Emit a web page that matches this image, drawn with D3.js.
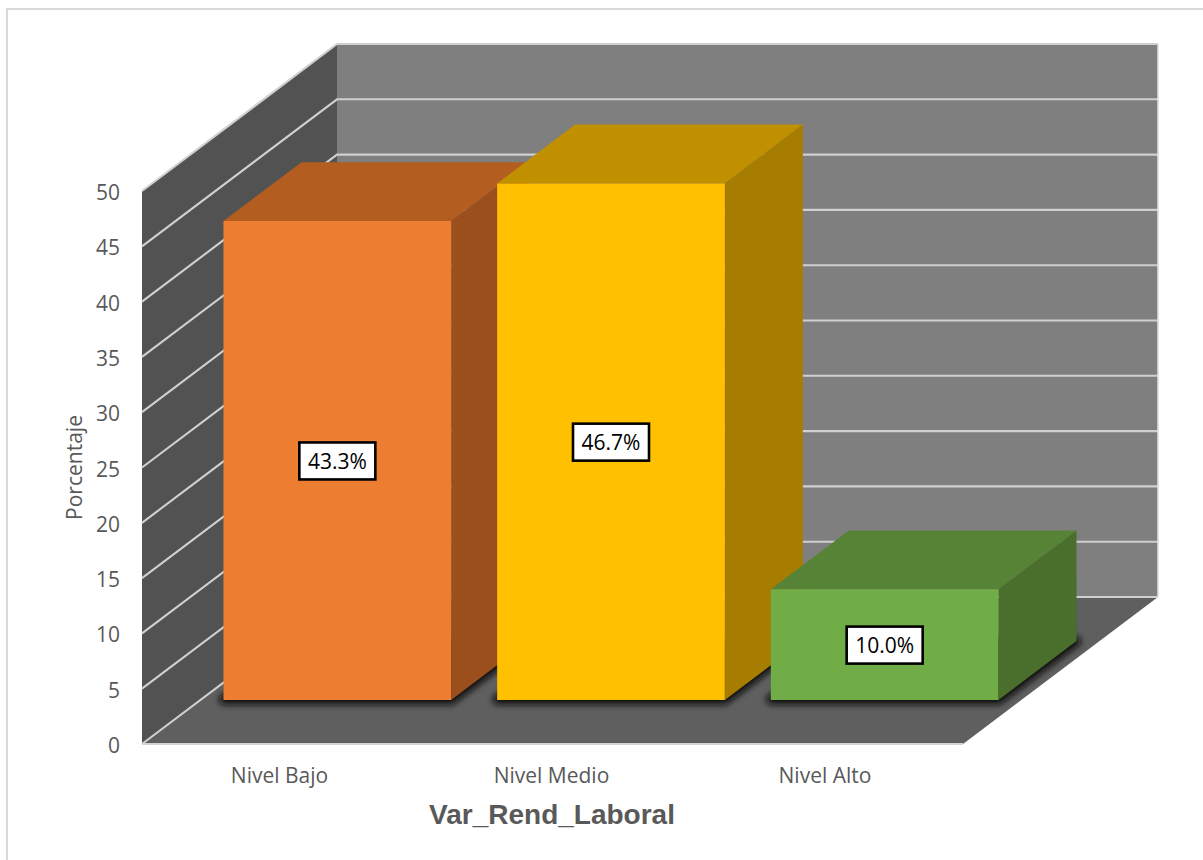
<!DOCTYPE html>
<html>
<head>
<meta charset="utf-8">
<script src="https://cdnjs.cloudflare.com/ajax/libs/d3/7.8.5/d3.min.js"></script>
<style>
html,body{margin:0;padding:0;background:#fff;overflow:hidden}
svg{display:block}
</style>
</head>
<body>
<div id="chart"></div>
<script>
// Chart values
const categories = ["Nivel Bajo", "Nivel Medio", "Nivel Alto"];
const percentages = [43.3, 46.7, 10.0];
const valueLabels = ["43.3%", "46.7%", "10.0%"];
const yTicks = [0, 5, 10, 15, 20, 25, 30, 35, 40, 45, 50];
const frontColors = ["#ED7D31", "#FFC000", "#70AD47"];
const topColors = ["#B45D21", "#C09000", "#568335"];
const sideColors = ["#9A4F1C", "#A67D00", "#4A6E2C"];

const width = 1203, height = 860;
const svg = d3.select("#chart").append("svg").attr("width", width).attr("height", height);

// Scales for the oblique box: x along the front, y up the wall, z into the depth
const x = d3.scaleLinear().domain([0, 1]).range([142, 963]);
const y = d3.scaleLinear().domain([0, 50]).range([744, 191]);
const zx = d3.scaleLinear().domain([0, 1]).range([0, 195]);
const zy = d3.scaleLinear().domain([0, 1]).range([0, -147]);

const band = d3.scaleBand().domain(categories).range([0, 1])
  .paddingInner(0.168).paddingOuter(0.084);
const barDepth = [0.3, 0.7];

// Projects a (position along x, value, depth) triple onto the page
const pt = (u, v, z) => [x(u) + zx(z), y(v) + zy(z)];
const closed = pts => "M" + pts.map(p => p.join(",")).join("L") + "Z";
const open = pts => "M" + pts.map(p => p.join(",")).join("L");

const defs = svg.append("defs");
defs.append("filter").attr("id", "baseShadow")
  .attr("x", "-20%").attr("y", "-40%").attr("width", "140%").attr("height", "180%")
  .append("feGaussianBlur").attr("stdDeviation", 3);
defs.append("clipPath").attr("id", "floorClip").append("path")
  .attr("d", closed([pt(0, 0, 0), pt(1, 0, 0), pt(1, 0, 1), pt(0, 0, 1)]));

// Chart frame, open past the right and bottom of the page
svg.append("rect").attr("x", 7).attr("y", 9).attr("width", 1300).attr("height", 1000)
  .attr("fill", "#fff").attr("stroke", "#d9d9d9").attr("stroke-width", 2);

// Walls and floor
svg.append("path").attr("d", closed([pt(0, 0, 1), pt(1, 0, 1), pt(1, 50, 1), pt(0, 50, 1)]))
  .attr("fill", "#7f7f7f");
svg.append("path").attr("d", closed([pt(0, 0, 0), pt(0, 0, 1), pt(0, 50, 1), pt(0, 50, 0)]))
  .attr("fill", "#525252");
svg.append("path").attr("d", closed([pt(0, 0, 0), pt(1, 0, 0), pt(1, 0, 1), pt(0, 0, 1)]))
  .attr("fill", "#5f5f5f");

// Gridlines run along the side wall and then across the back wall
const grid = svg.append("g").attr("fill", "none").attr("stroke", "#d0d0d0").attr("stroke-width", 2.1);
grid.selectAll("path").data(yTicks).join("path")
  .attr("d", t => open([pt(0, t, 0), pt(0, t, 1), pt(1, t, 1)]));
svg.append("path").attr("d", open([pt(0, 0, 0), pt(1, 0, 0)]))
  .attr("stroke", "#d4d4d4").attr("stroke-width", 1.8);
svg.append("path").attr("d", open([pt(1, 0, 1), pt(1, 50, 1)]))
  .attr("stroke", "#dedede").attr("stroke-width", 1.6);

// Soft contact shadows on the floor, slightly larger than each bar's footprint
svg.append("g").attr("clip-path", "url(#floorClip)")
  .selectAll("path").data(categories).join("path")
  .attr("filter", "url(#baseShadow)")
  .attr("fill", "#111").attr("stroke", "#111").attr("stroke-width", 9)
  .attr("stroke-linejoin", "round")
  .attr("d", c => {
    const l = band(c), r = l + band.bandwidth();
    return closed([pt(l, 0, barDepth[0]), pt(r, 0, barDepth[0]), pt(r, 0, barDepth[1]), pt(l, 0, barDepth[1])]);
  });

// Bars: top, side, then front face
const bars = svg.append("g").selectAll("g").data(categories).join("g");
bars.append("path").attr("fill", (c, i) => topColors[i])
  .attr("d", (c, i) => {
    const l = band(c), r = l + band.bandwidth(), v = percentages[i];
    return closed([pt(l, v, barDepth[0]), pt(r, v, barDepth[0]), pt(r, v, barDepth[1]), pt(l, v, barDepth[1])]);
  });
bars.append("path").attr("fill", (c, i) => sideColors[i])
  .attr("d", (c, i) => {
    const r = band(c) + band.bandwidth(), v = percentages[i];
    return closed([pt(r, 0, barDepth[0]), pt(r, 0, barDepth[1]), pt(r, v, barDepth[1]), pt(r, v, barDepth[0])]);
  });
bars.append("path").attr("fill", (c, i) => frontColors[i])
  .attr("d", (c, i) => {
    const l = band(c), r = l + band.bandwidth(), v = percentages[i];
    return closed([pt(l, 0, barDepth[0]), pt(r, 0, barDepth[0]), pt(r, v, barDepth[0]), pt(l, v, barDepth[0])]);
  });

// Value labels in white boxes at the middle of each front face
const boxW = 76, boxH = 37;
const labels = svg.append("g").selectAll("g").data(categories).join("g")
  .attr("transform", (c, i) => {
    const p = pt(band(c) + band.bandwidth() / 2, percentages[i] / 2, barDepth[0]);
    return `translate(${p[0]},${p[1] + 0.5})`;
  });
labels.append("rect").attr("x", -boxW / 2).attr("y", -boxH / 2)
  .attr("width", boxW).attr("height", boxH)
  .attr("fill", "#fff").attr("stroke", "#000").attr("stroke-width", 2.6);
labels.append("text").attr("text-anchor", "middle").attr("dy", "0.36em")
  .attr("font-family", "'Open Sans', sans-serif").attr("font-size", 21).attr("fill", "#000")
  .text((c, i) => valueLabels[i]);

// Value axis labels
svg.append("g").selectAll("text").data(yTicks).join("text")
  .attr("x", 120).attr("y", t => y(t) + 1.5).attr("dy", "0.36em").attr("text-anchor", "end")
  .attr("font-family", "'Open Sans', sans-serif").attr("font-size", 21).attr("fill", "#595959")
  .text(t => t);

// Category labels, placed under each bar's front face
svg.append("g").selectAll("text").data(categories).join("text")
  .attr("x", (c, i) => [279.5, 551.5, 825][i]).attr("y", 783).attr("text-anchor", "middle")
  .attr("font-family", "'Open Sans', sans-serif").attr("font-size", 21).attr("fill", "#595959")
  .text(c => c);

// Axis titles
svg.append("text").attr("x", 552).attr("y", 824).attr("text-anchor", "middle")
  .attr("font-family", "'Liberation Sans', Arial, sans-serif").attr("font-weight", "bold")
  .attr("font-size", 28).attr("fill", "#595959").text("Var_Rend_Laboral");
svg.append("text").attr("transform", "translate(81.5,467.5) rotate(-90)").attr("text-anchor", "middle")
  .attr("font-family", "'Open Sans', sans-serif").attr("font-size", 21).attr("fill", "#595959")
  .text("Porcentaje");
</script>
</body>
</html>
